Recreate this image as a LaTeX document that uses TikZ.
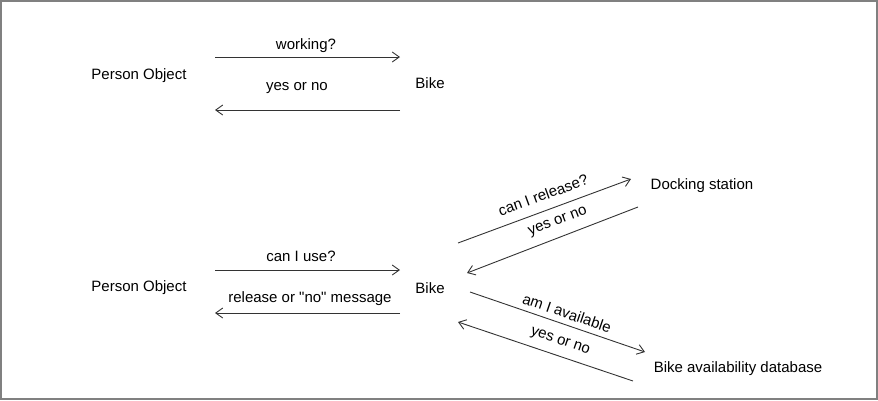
\documentclass[tikz,border=0pt]{standalone}
\usepackage{fontspec}
\setmainfont{Liberation Sans}
\newfontfamily\lblfont{Liberation Sans}
\usetikzlibrary{arrows.meta}
\begin{document}
\begin{tikzpicture}[x=1pt,y=-1pt,
  lbl/.style={font=\lblfont\fontsize{15}{17}\selectfont, text=black, inner sep=0pt},
  msg/.style={draw=black!80, line width=0.9pt, -{Straight Barb[length=7pt,width=10pt,line width=0.9pt]}},
  frame/.style={draw=black!50, line width=1.6pt}]
\useasboundingbox (0,0) rectangle (878,400);
\draw[frame] (0.8,0.8) rectangle (877.2,399.2);
% top scenario
\node[lbl] (p1) at (139,76) {Person Object};
\node[lbl] (b1) at (430,83) {Bike};
\coordinate (p1a) at (215,57); \coordinate (b1a) at (400,57);
\coordinate (p1b) at (215,110); \coordinate (b1b) at (400,110);
\draw[msg] (p1a) -- (b1a);
\draw[msg] (b1b) -- (p1b);
\node[lbl] (l1) at (306,46) {working?};
\node[lbl] (l2) at (297,88) {yes or no};
% bottom scenario
\node[lbl] (p2) at (139,288) {Person Object};
\node[lbl] (b2) at (430,288) {Bike};
\node[lbl] (ds) at (702,186) {Docking station};
\node[lbl] (db) at (738,369) {Bike availability database};
\coordinate (p2a) at (215,270); \coordinate (b2a) at (400,270);
\coordinate (p2b) at (215,313); \coordinate (b2b) at (400,313);
\draw[msg] (p2a) -- (b2a);
\draw[msg] (b2b) -- (p2b);
\node[lbl] (l3) at (301,256) {can I use?};
\node[lbl] (l4) at (310,299) {release or "no" message};
% docking station
\coordinate (bd1) at (458,243); \coordinate (ds1) at (631,179);
\coordinate (ds2) at (638,207); \coordinate (bd2) at (467,273);
\draw[msg] (bd1) -- (ds1);
\draw[msg] (ds2) -- (bd2);
\node[lbl, rotate=20] (l5) at (543,195) {can I release?};
\node[lbl, rotate=21] (l6) at (558,222) {yes or no};
% database
\coordinate (bb1) at (470,292); \coordinate (db1) at (645,352);
\coordinate (db2) at (633,381); \coordinate (bb2) at (458,322);
\draw[msg] (bb1) -- (db1);
\draw[msg] (db2) -- (bb2);
\node[lbl, rotate=-19] (l7) at (567,313) {am I available};
\node[lbl, rotate=-19] (l8) at (560,342) {yes or no};
\end{tikzpicture}
\end{document}
